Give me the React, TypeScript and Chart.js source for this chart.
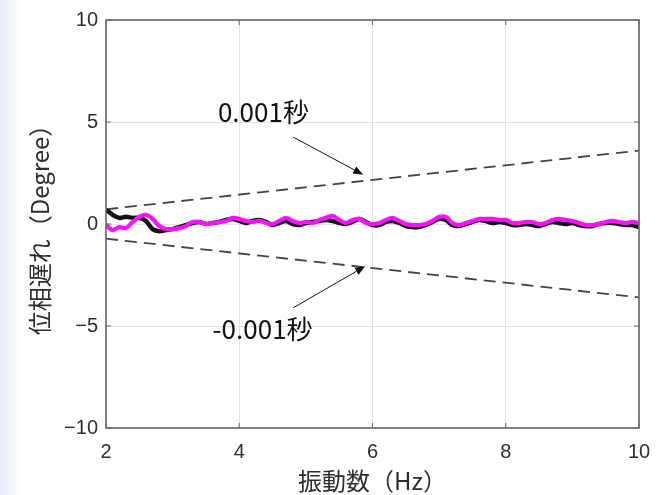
import React, { useEffect, useRef } from "react";
import { Chart, registerables } from "chart.js";

Chart.register(...registerables);

const freqHz = [
  2.0, 2.1, 2.2, 2.3, 2.4, 2.5, 2.6, 2.7, 2.8, 2.9,
  3.0, 3.1, 3.2, 3.3, 3.4, 3.5, 3.6, 3.7, 3.8, 3.9,
  4.0, 4.1, 4.2, 4.3, 4.4, 4.5, 4.6, 4.7, 4.8, 4.9,
  5.0, 5.1, 5.2, 5.3, 5.4, 5.5, 5.6, 5.7, 5.8, 5.9,
  6.0, 6.1, 6.2, 6.3, 6.4, 6.5, 6.6, 6.7, 6.8, 6.9,
  7.0, 7.1, 7.2, 7.3, 7.4, 7.5, 7.6, 7.7, 7.8, 7.9,
  8.0, 8.1, 8.2, 8.3, 8.4, 8.5, 8.6, 8.7, 8.8, 8.9,
  9.0, 9.1, 9.2, 9.3, 9.4, 9.5, 9.6, 9.7, 9.8, 9.9,
  10.0,
];

const blackPhase = [
  0.7, 0.45, 0.3, 0.35, 0.3, 0.3, 0.15, -0.25, -0.35, -0.3,
  -0.25, -0.15, -0.05, 0.05, 0.1, 0.0, 0.05, 0.1, 0.2, 0.25,
  0.15, 0.05, 0.15, 0.2, 0.1, -0.05, 0.05, 0.15, 0.0, -0.05,
  0.05, 0.1, 0.15, 0.2, 0.15, 0.05, 0.0, 0.1, 0.25, 0.1,
  -0.05, -0.05, 0.1, 0.15, 0.05, -0.1, -0.15, -0.15, -0.05, 0.1,
  0.25, 0.2, -0.05, -0.1, 0.0, 0.1, 0.2, 0.15, 0.05, 0.1,
  0.05, -0.05, -0.05, 0.0, -0.05, -0.1, 0.0, 0.1, 0.05, 0.0,
  0.05, -0.05, -0.1, -0.1, 0.0, 0.05, 0.05, 0.0, -0.05, -0.05,
  -0.15,
];

const magentaPhase = [
  -0.05, -0.3, -0.15, -0.2, 0.1, 0.35, 0.45, 0.25, -0.1, -0.25,
  -0.25, -0.2, -0.1, 0.1, 0.1, 0.0, 0.05, 0.1, 0.15, 0.3,
  0.25, 0.15, 0.1, 0.15, 0.05, 0.0, 0.15, 0.3, 0.15, 0.05,
  0.1, 0.05, 0.2, 0.3, 0.4, 0.2, 0.05, 0.2, 0.25, 0.05,
  0.0, 0.05, 0.2, 0.3, 0.15, 0.0, -0.05, -0.05, 0.0, 0.15,
  0.35, 0.35, 0.05, -0.05, 0.05, 0.15, 0.25, 0.25, 0.25, 0.2,
  0.2, 0.05, 0.05, 0.1, 0.1, 0.0, 0.05, 0.2, 0.25, 0.2,
  0.15, 0.05, -0.05, -0.05, 0.0, 0.1, 0.15, 0.1, 0.05, 0.1,
  0.05,
];

// ±0.001 s delay reference lines (degrees) at the end frequencies
const refFreq = [2, 10];
const refPlus = [0.72, 3.6];
const refMinus = [-0.72, -3.6];

const xTicks = [2, 4, 6, 8, 10];
const yTicks = [-10, -5, 0, 5, 10];

const annotations = [
  { text: "0.001秒", tx: 3.68, ty: 5.47, from: [4.81, 4.26], to: [5.86, 2.42] },
  { text: "-0.001秒", tx: 3.6, ty: -5.13, from: [4.81, -4.11], to: [5.89, -2.07] },
];

const xTitle = "振動数（Hz）";
const yTitle = "位相遅れ（Degree）";

const PLOT_LEFT = 106;
const PLOT_TOP = 17;
const PLOT_RIGHT = 639;
const PLOT_BOTTOM = 428;
const W = 668;
const H = 495;

const boxPlugin = {
  id: "boxAndNotes",
  afterDatasetsDraw(chart: any) {
    const { ctx, chartArea, scales } = chart;
    const xs = scales.x;
    const ys = scales.y;
    ctx.save();
    // inner ticks
    ctx.strokeStyle = "#666";
    ctx.lineWidth = 1;
    const tl = 5;
    xTicks.forEach((v) => {
      const px = xs.getPixelForValue(v);
      ctx.beginPath();
      ctx.moveTo(px, chartArea.bottom);
      ctx.lineTo(px, chartArea.bottom - tl);
      ctx.moveTo(px, chartArea.top);
      ctx.lineTo(px, chartArea.top + tl);
      ctx.stroke();
    });
    yTicks.forEach((v) => {
      const py = ys.getPixelForValue(v);
      ctx.beginPath();
      ctx.moveTo(chartArea.left, py);
      ctx.lineTo(chartArea.left + tl, py);
      ctx.moveTo(chartArea.right, py);
      ctx.lineTo(chartArea.right - tl, py);
      ctx.stroke();
    });
    // box
    ctx.strokeStyle = "#666";
    ctx.lineWidth = 1.6;
    ctx.strokeRect(chartArea.left, chartArea.top, chartArea.right - chartArea.left, chartArea.bottom - chartArea.top);

    // annotations
    ctx.fillStyle = "#111";
    ctx.strokeStyle = "#111";
    ctx.font = '26px "Noto Sans CJK JP", "Noto Sans", sans-serif';
    ctx.textBaseline = "middle";
    ctx.textAlign = "left";
    annotations.forEach((a) => {
      ctx.fillText(a.text, xs.getPixelForValue(a.tx), ys.getPixelForValue(a.ty));
      const x1 = xs.getPixelForValue(a.from[0]);
      const y1 = ys.getPixelForValue(a.from[1]);
      const x2 = xs.getPixelForValue(a.to[0]);
      const y2 = ys.getPixelForValue(a.to[1]);
      const ang = Math.atan2(y2 - y1, x2 - x1);
      const hl = 10;
      const hw = 4;
      const bx = x2 - hl * Math.cos(ang);
      const by = y2 - hl * Math.sin(ang);
      ctx.lineWidth = 1;
      ctx.beginPath();
      ctx.moveTo(x1, y1);
      ctx.lineTo(bx, by);
      ctx.stroke();
      ctx.beginPath();
      ctx.moveTo(x2, y2);
      ctx.lineTo(bx + hw * Math.sin(ang), by - hw * Math.cos(ang));
      ctx.lineTo(bx - hw * Math.sin(ang), by + hw * Math.cos(ang));
      ctx.closePath();
      ctx.fill();
    });
    ctx.restore();
  },
};

export default function App() {
  const ref = useRef<HTMLCanvasElement | null>(null);

  useEffect(() => {
    if (!ref.current) return;
    const pts = (xs: number[], ys: number[]) => xs.map((x, i) => ({ x, y: ys[i] }));
    const chart = new Chart(ref.current, {
      type: "line",
      data: {
        datasets: [
          {
            data: pts(refFreq, refPlus),
            borderColor: "#444",
            borderWidth: 1.8,
            borderDash: [12, 7],
            pointRadius: 0,
            order: 3,
          },
          {
            data: pts(refFreq, refMinus),
            borderColor: "#444",
            borderWidth: 1.8,
            borderDash: [12, 7],
            pointRadius: 0,
            order: 3,
          },
          {
            data: pts(freqHz, blackPhase),
            borderColor: "#111",
            borderWidth: 4.5,
            pointRadius: 0,
            tension: 0.3,
            order: 2,
          },
          {
            data: pts(freqHz, magentaPhase),
            borderColor: "#ff10ff",
            borderWidth: 4.2,
            pointRadius: 0,
            tension: 0.3,
            order: 1,
          },
        ],
      },
      options: {
        responsive: false,
        animation: false,
        events: [],
        layout: { padding: { left: 0, top: PLOT_TOP, right: W - PLOT_RIGHT, bottom: 0 } },
        plugins: { legend: { display: false }, tooltip: { enabled: false } },
        scales: {
          x: {
            type: "linear",
            min: 2,
            max: 10,
            afterBuildTicks: (s: any) => {
              s.ticks = xTicks.map((v) => ({ value: v }));
            },
            afterFit: (s: any) => {
              s.height = H - PLOT_BOTTOM;
            },
            ticks: {
              color: "#2e2e2e",
              font: { family: '"Liberation Sans", Arial, sans-serif', size: 20 },
              padding: 12,
              maxRotation: 0,
            },
            grid: { color: "#e2e2e2", lineWidth: 1, tickLength: 0 },
            border: { display: false },
            title: {
              display: true,
              text: xTitle,
              color: "#2e2e2e",
              font: { family: '"Noto Sans CJK JP", sans-serif', size: 24 },
              padding: { top: 0, bottom: 0 },
            },
          },
          y: {
            type: "linear",
            min: -10,
            max: 10,
            afterBuildTicks: (s: any) => {
              s.ticks = yTicks.map((v) => ({ value: v }));
            },
            afterFit: (s: any) => {
              s.width = PLOT_LEFT;
            },
            ticks: {
              color: "#2e2e2e",
              font: { family: '"Liberation Sans", Arial, sans-serif', size: 20 },
              padding: 8,
              callback: (v: any) => String(v).replace("-", "\u2212"),
            },
            grid: { color: "#e2e2e2", lineWidth: 1, tickLength: 0 },
            border: { display: false },
            title: {
              display: true,
              text: yTitle,
              color: "#2e2e2e",
              font: { family: '"Noto Sans CJK JP", sans-serif', size: 24 },
              padding: { top: 25, bottom: 0 },
            },
          },
        },
      },
      plugins: [boxPlugin],
    });
    return () => chart.destroy();
  }, []);

  return (
    <div
      style={{
        position: "absolute",
        left: 0,
        top: 0,
        width: W,
        height: H,
        background: "linear-gradient(to right, #e9ecf8 0px, #f4f5fc 12px, #ffffff 22px)",
      }}
    >
      <canvas ref={ref} width={W} height={H} style={{ display: "block" }} />
    </div>
  );
}
